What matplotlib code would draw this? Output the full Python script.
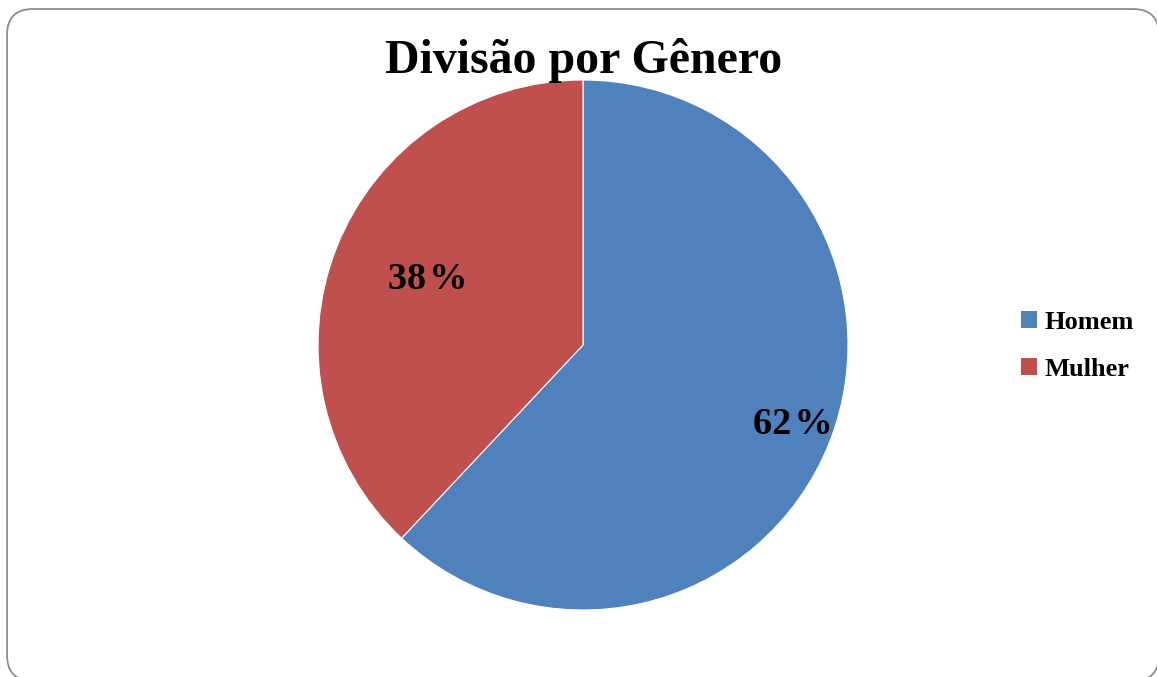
import numpy as np
import matplotlib
import matplotlib.pyplot as plt
from matplotlib.patches import FancyBboxPatch

matplotlib.rc('font', family='Liberation Serif', weight='bold')

labels = ['Homem', 'Mulher']
shares = [62, 38]
colors = ['#4F81BD', '#C0504D']
# how far out each percentage sits, as a fraction of the radius
label_dist = [0.84, 0.64]

W, H = 1157, 677
fig = plt.figure(figsize=(W / 100, H / 100), dpi=100)

# rounded chart frame in pixel units, running off the right and bottom edges
frame = FancyBboxPatch((7, -4), W + 2 - 7, H + 4 - 9,
                       boxstyle='round,pad=0,rounding_size=26',
                       facecolor='white', edgecolor='#8c8c8c', linewidth=1.3,
                       zorder=-1)
fig.patches.append(frame)

cx, cy, r = 583, 345, 265
ax = fig.add_axes([(cx - r) / W, (H - cy - r) / H, 2 * r / W, 2 * r / H])
wedges, _ = ax.pie(shares, colors=colors, startangle=90, counterclock=False,
                   radius=1, wedgeprops=dict(edgecolor='white', linewidth=0.8))
ax.set_xlim(-1, 1)
ax.set_ylim(-1, 1)
ax.set_aspect('equal')

total = sum(shares)
for w, v, d in zip(wedges, shares, label_dist):
    mid = np.deg2rad((w.theta1 + w.theta2) / 2)
    ax.text(d * np.cos(mid) + 0.01, d * np.sin(mid) + 0.01,
            f'{round(100 * v / total)}\u200a%',
            ha='center', va='center', fontsize=27.5, fontweight='bold')

fig.text(584 / W, (H - 73) / H, 'Divisão por Gênero', ha='center',
         va='baseline', fontsize=34.5, fontweight='bold')

fig.legend(wedges, labels, loc='center left',
           bbox_to_anchor=(1021 / W, (H - 346) / H), frameon=False,
           prop=dict(family='Liberation Serif', weight='bold', size=19),
           handlelength=0.6, handleheight=0.6, handletextpad=0.3,
           labelspacing=0.9, borderaxespad=0, borderpad=0)
for h in fig.legends[0].legend_handles:
    h.set_edgecolor('none')

fig.savefig('out.png', dpi=100)
